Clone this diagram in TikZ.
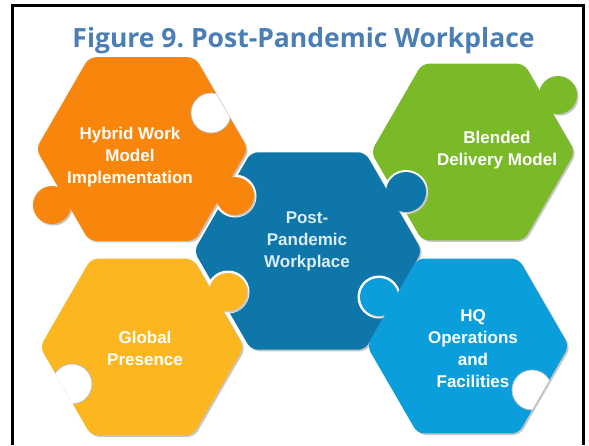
\documentclass[tikz,border=0pt]{standalone}
\usepackage{fontspec}
\setmainfont{Liberation Sans}
\newfontfamily\titlefont{Open Sans}
\usetikzlibrary{calc}
\definecolor{cOrange}{HTML}{F8860C}
\definecolor{cGreen}{HTML}{7ABA28}
\definecolor{cBlue}{HTML}{0E76A8}
\definecolor{cYellow}{HTML}{FCB620}
\definecolor{cLight}{HTML}{0A9EDA}
\definecolor{cTitle}{HTML}{4A7EB4}
\definecolor{cBlueText}{HTML}{DCEEF8}
\frenchspacing
\begin{document}
\begin{tikzpicture}[x=1pt,y=1pt,
  hex/.style n args={2}{insert path={($(#1)+(0:#2)$) -- ($(#1)+(60:#2)$) -- ($(#1)+(120:#2)$) -- ($(#1)+(180:#2)$) -- ($(#1)+(240:#2)$) -- ($(#1)+(300:#2)$) -- cycle}},
  body/.style={rounded corners=7pt},
  shd/.style={fill=black!22, transform canvas={xshift=1.6pt, yshift=-1.6pt}},
  gap/.style={fill=white},
  hole/.style={fill=white, draw=black!25, line width=0.8pt},
  lbl/.style={text=white, font=\bfseries\fontsize{17}{22}\selectfont, align=center, inner sep=0pt}
]
\useasboundingbox (0,0) rectangle (589,-445);
% frame
\draw[line width=3pt] (12.5,-445) -- (12.5,-5) -- (583,-5) -- (583,-445);
% title
\node[anchor=base, text=cTitle, font=\titlefont\bfseries\fontsize{26.5}{30}\selectfont, inner sep=0pt] (title) at (303.5,-47) {Figure 9. Post-Pandemic Workplace};

% centres and tab/hole positions
\coordinate (O) at (142,-149);
\coordinate (G) at (473,-152);
\coordinate (B) at (308,-251);
\coordinate (Y) at (142,-347);
\coordinate (L) at (468,-346);
\coordinate (Otab) at (235,-196);
\coordinate (Oknob) at (52,-205);
\coordinate (Ohole) at (211,-113);
\coordinate (Gtab) at (558,-95);
\coordinate (Btab) at (406,-192);
\coordinate (Ytab) at (228,-292);
\coordinate (Yhole) at (72,-384);
\coordinate (Ltab) at (379,-297);
\coordinate (Lhole) at (532,-390);

% green piece
\fill[shd, body, hex={G}{102}];
\fill[shd] (Gtab) circle[radius=19];
\fill[cGreen, body, hex={G}{102}];
\fill[cGreen] (Gtab) circle[radius=19];
\fill[gap] (Btab) circle[radius=22];
% blue piece
\fill[shd, body, hex={B}{114}];
\fill[shd] (Btab) circle[radius=20];
\fill[cBlue, body, hex={B}{114}];
\fill[cBlue] (Btab) circle[radius=20];
\fill[gap] (Otab) circle[radius=21.5];
\fill[gap] (Ytab) circle[radius=21.5];
\fill[gap] (Ltab) circle[radius=21.5];
% orange piece
\fill[shd, body, hex={O}{106}];
\fill[shd] (Otab) circle[radius=19] (Oknob) circle[radius=19];
\fill[cOrange, body, hex={O}{106}];
\fill[cOrange] (Otab) circle[radius=19] (Oknob) circle[radius=19];
\begin{scope}
  \clip[body, hex={O}{106}];
  \path[hole] (Ohole) circle[radius=20];
\end{scope}
% yellow piece
\fill[shd, body, hex={Y}{102}];
\fill[shd] (Ytab) circle[radius=19];
\fill[cYellow, body, hex={Y}{102}];
\fill[cYellow] (Ytab) circle[radius=19];
\begin{scope}
  \clip[body, hex={Y}{102}];
  \path[hole] (Yhole) circle[radius=20];
\end{scope}
% light blue piece
\fill[shd, body, hex={L}{101}];
\fill[shd] (Ltab) circle[radius=19];
\fill[cLight, body, hex={L}{101}];
\fill[cLight] (Ltab) circle[radius=19];
\begin{scope}
  \clip[body, hex={L}{101}];
  \path[hole] (Lhole) circle[radius=20];
\end{scope}

% labels
\node[lbl] (tO) at (130,-157) {Hybrid Work\\Model\\Implementation};
\node[lbl] (tG) at (497,-150) {Blended\\Delivery Model};
\node[lbl, text=cBlueText] (tB) at (307,-241) {Post-\\Pandemic\\Workplace};
\node[lbl] (tY) at (145,-348) {Global\\Presence};
\node[lbl] (tL) at (473,-349) {HQ\\Operations\\and\\Facilities};
\end{tikzpicture}
\end{document}
